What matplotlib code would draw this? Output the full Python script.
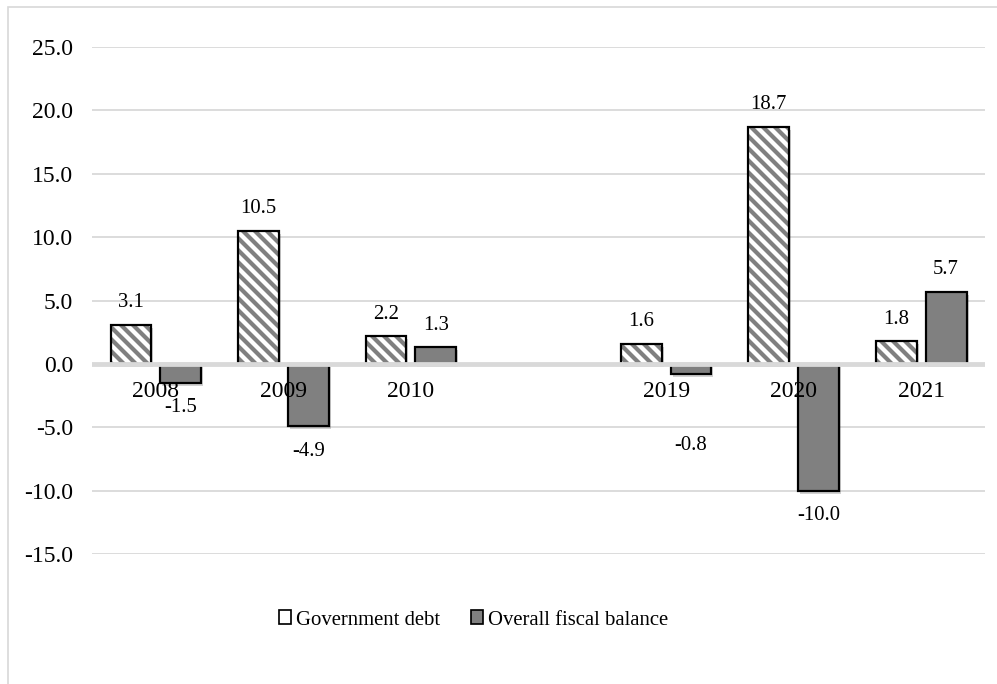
import numpy as np
import matplotlib.pyplot as plt
import matplotlib.transforms as mtransforms
from matplotlib.patches import Patch, Rectangle

# at 72 dpi one point is one pixel, so every size below is in pixels
DPI = 72
plt.rcParams['font.family'] = ['Liberation Serif', 'DejaVu Serif']
plt.rcParams['hatch.linewidth'] = 4.2

# blank slot between the two periods
years = ['2008', '2009', '2010', '', '2019', '2020', '2021']
debt = [3.1, 10.5, 2.2, None, 1.6, 18.7, 1.8]
balance = [-1.5, -4.9, 1.3, None, -0.8, -10.0, 5.7]
series_names = ['Government debt', 'Overall fiscal balance']

GRID = '#d9d9d9'
DARK = '#808080'

fig = plt.figure(figsize=(997 / DPI, 684 / DPI), dpi=DPI)
ax = fig.add_axes([0.0923, 0.190, 0.8957, 0.7413])

x = np.arange(len(years))
w = 0.32
off = 0.195

idx = [i for i in range(len(years)) if debt[i] is not None]
xd = x[idx] - off
xb = x[idx] + off
dv = [debt[i] for i in idx]
bv = [balance[i] for i in idx]

# soft drop shadow under every bar
shadow = mtransforms.offset_copy(ax.transData, fig=fig, x=2, y=-3, units='dots')
for xs, vs in ((xd, dv), (xb, bv)):
    ax.bar(xs, vs, w, color='black', alpha=0.18, linewidth=0,
           transform=shadow, zorder=1)

# hatched debt bars: gray stripes, then black outline on top
ax.bar(xd, dv, w, facecolor='white', edgecolor=DARK, hatch='\\\\',
       linewidth=0, zorder=2)
ax.bar(xd, dv, w, fill=False, edgecolor='black', linewidth=2.2, zorder=3)
ax.bar(xb, bv, w, facecolor=DARK, edgecolor='black', linewidth=2.2, zorder=3)

ax.axhline(0, color=GRID, linewidth=4.8, zorder=4)

ax.set_xlim(-0.5, len(years) - 0.5)
ax.set_ylim(-15, 25)
ax.set_yticks(np.arange(-15, 26, 5))
ax.set_yticklabels([f'{v:.1f}' for v in np.arange(-15, 26, 5)])
ax.set_xticks([])
ax.yaxis.grid(True, color=GRID, linewidth=1.8)
ax.set_axisbelow(True)
ax.tick_params(axis='y', length=0, labelsize=23.6, pad=19)
for s in ax.spines.values():
    s.set_visible(False)

# category labels sit right under the zero line
for xi, yr in zip(x, years):
    ax.annotate(yr, (xi, 0), xytext=(0, -17), textcoords='offset points',
                ha='center', va='top', fontsize=23.6, zorder=5)

# value labels
extra = {(1, 4): -46}
for k, i in enumerate(idx):
    for s, (xs, vs) in enumerate(((xd, dv), (xb, bv))):
        v = vs[k]
        dy = 22 if v >= 0 else -25
        dy += extra.get((s, i), 0)
        ax.annotate(f'{v:.1f}', (xs[k], v), xytext=(0, dy),
                    textcoords='offset points', ha='center', va='center',
                    fontsize=20.8, zorder=5)

handles = [Patch(facecolor='white', edgecolor='black', linewidth=1.7),
           Patch(facecolor=DARK, edgecolor='black', linewidth=1.7)]
fig.legend(handles, series_names, loc='center', bbox_to_anchor=(0.475, 0.0935),
           ncol=2, frameon=False, fontsize=20.8, handlelength=0.6,
           handleheight=0.65, handletextpad=0.25, columnspacing=1.45,
           borderaxespad=0)

# chart frame
fig.add_artist(Rectangle((8 / 997, -0.01), 1.0, 1.0 - 7 / 684 + 0.01,
                         transform=fig.transFigure, fill=False,
                         edgecolor=GRID, linewidth=1.7))

fig.savefig('out.png', dpi=DPI)
